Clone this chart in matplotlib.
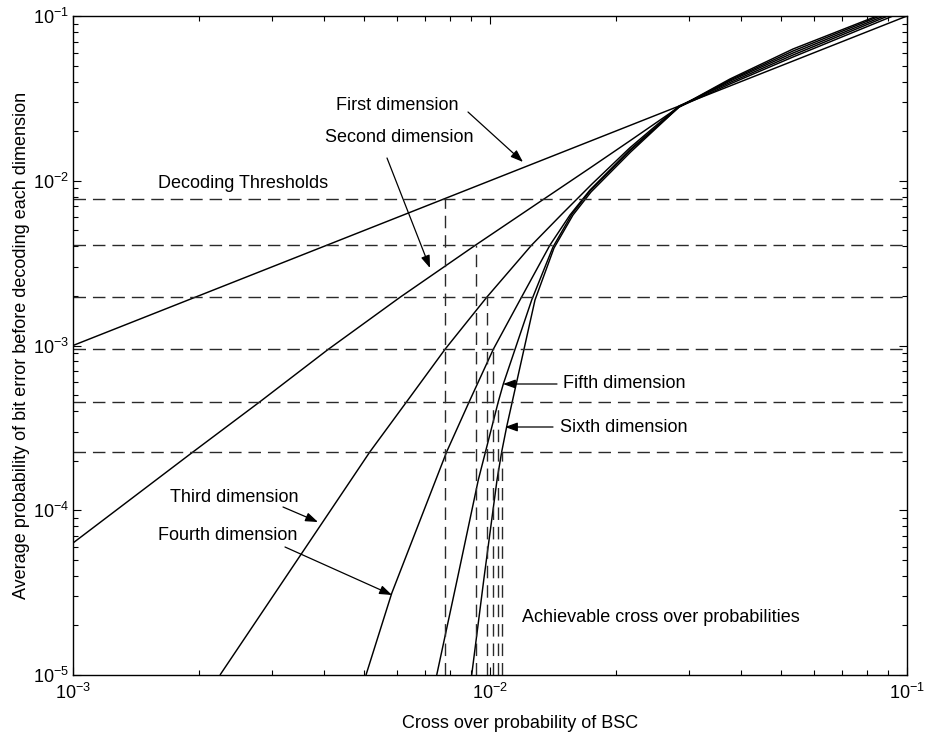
import numpy as np
import matplotlib
matplotlib.use("Agg")
import matplotlib.pyplot as plt
from matplotlib.ticker import LogLocator, NullFormatter

plt.rcParams['font.family'] = ['Liberation Sans', 'DejaVu Sans']
plt.rcParams['mathtext.fontset'] = 'custom'
plt.rcParams['mathtext.rm'] = 'Liberation Sans'
plt.rcParams['mathtext.it'] = 'Liberation Sans:italic'
plt.rcParams['mathtext.bf'] = 'Liberation Sans:bold'

# ---- data, stored as log10 of the probabilities ----
# First dimension: error before decoding equals the crossover probability
dim1_lx = [-3.0, -1.0]
dim1_ly = [-3.0, -1.0]

dim2_lx = [-3.000, -2.7115, -2.5516, -2.3878, -2.2158, -2.0343, -1.8688, -1.7602,
           -1.6651, -1.5468, -1.4245, -1.2734, -1.0336]
dim2_ly = [-4.1988, -3.6446, -3.3411, -3.0231, -2.7074, -2.3900, -2.1077, -1.9226,
           -1.7587, -1.5524, -1.4127, -1.2489, -1.0]

dim3_lx = [-2.6475, -2.2878, -2.1998, -2.1079, -2.0079, -1.9000, -1.8273, -1.7554,
           -1.6651, -1.5468, -1.4245, -1.2734, -1.0456]
dim3_ly = [-5.0, -3.6446, -3.3411, -3.0231, -2.7074, -2.3900, -2.2018, -2.0197,
           -1.8012, -1.5463, -1.4036, -1.2368, -1.0]

dim4_lx = [-2.2974, -2.2357, -2.1038, -2.0480, -1.9921, -1.9281, -1.8561, -1.8082,
           -1.7602, -1.6651, -1.5468, -1.4245, -1.2734, -1.0552]
dim4_ly = [-5.0, -4.5041, -3.6446, -3.3308, -3.0231, -2.7238, -2.3900, -2.2079,
           -2.0562, -1.8134, -1.5524, -1.3945, -1.2246, -1.0]

dim5_lx = [-2.1278, -2.0779, -2.0281, -1.9801, -1.9681, -1.9000, -1.8489, -1.8034,
           -1.7602, -1.6651, -1.5468, -1.4245, -1.2734, -1.0647]
dim5_ly = [-5.0, -4.4112, -3.8164, -3.3411, -3.2337, -2.7238, -2.4021, -2.2018,
           -2.0622, -1.8194, -1.5524, -1.3885, -1.2125, -1.0]

dim6_lx = [-2.0439, -2.0144, -1.9832, -1.9719, -1.9600, -1.8921, -1.8465, -1.8010,
           -1.7578, -1.6627, -1.5468, -1.4245, -1.2734, -1.0719]
dim6_ly = [-5.0, -4.4112, -3.8164, -3.6446, -3.4929, -2.7238, -2.4082, -2.2079,
           -2.0683, -1.8255, -1.5524, -1.3824, -1.2003, -1.0]

# decoding thresholds (horizontal) and achievable crossover probabilities (vertical)
thresholds = [7.72e-3, 4.07e-3, 1.96e-3, 9.48e-4, 4.56e-4, 2.26e-4]
achievable = [7.80e-3, 9.25e-3, 9.82e-3, 1.019e-2, 1.047e-2, 1.067e-2]

curves_lx = [dim1_lx, dim2_lx, dim3_lx, dim4_lx, dim5_lx, dim6_lx]
curves_ly = [dim1_ly, dim2_ly, dim3_ly, dim4_ly, dim5_ly, dim6_ly]

W, H = 925, 734
fig = plt.figure(figsize=(W / 100, H / 100), dpi=100)
ax = fig.add_axes([73 / W, 1 - 675 / H, (907 - 73) / W, (675 - 16) / H])
ax.set_xscale('log')
ax.set_yscale('log')
ax.set_xlim(1e-3, 1e-1)
ax.set_ylim(1e-5, 1e-1)

for lx, ly in zip(curves_lx, curves_ly):
    ax.plot(np.power(10.0, lx), np.power(10.0, ly), color='black', lw=1.05,
            solid_joinstyle='round', solid_capstyle='butt')

dash = (9, 5)
for t in thresholds:
    ax.axhline(t, color='#2a2a2a', lw=1.0, dashes=dash)
for a, t in zip(achievable, thresholds):
    ax.plot([a, a], [1e-5, t], color='#2a2a2a', lw=1.0, dashes=dash)

ax.tick_params(which='both', direction='in', top=True, right=True, labelsize=13,
               width=0.8)
ax.tick_params(which='major', length=6)
ax.tick_params(which='minor', length=3.5)
ax.tick_params(axis='x', pad=6)
ax.tick_params(axis='y', pad=3)
ax.xaxis.set_major_locator(LogLocator(base=10, numticks=10))
ax.yaxis.set_major_locator(LogLocator(base=10, numticks=10))
ax.xaxis.set_minor_locator(LogLocator(base=10, subs=np.arange(2, 10), numticks=20))
ax.yaxis.set_minor_locator(LogLocator(base=10, subs=np.arange(2, 10), numticks=20))
ax.xaxis.set_minor_formatter(NullFormatter())
ax.yaxis.set_minor_formatter(NullFormatter())
for s in ax.spines.values():
    s.set_linewidth(1.0)

fs = 13
ax.set_xlabel('Cross over probability of BSC', fontsize=fs)
ax.xaxis.set_label_coords(0.536, -0.061)
ax.set_ylabel('Average probability of bit error before decoding each dimension',
              fontsize=fs, labelpad=2)


def px2data(px, py):
    lx = -3 + (px - 73) / 417.0
    ly = -1 - (py - 16) / 164.75
    return 10 ** lx, 10 ** ly


aprops = dict(arrowstyle='-|>,head_length=0.75,head_width=0.27', color='black',
              lw=0.9, shrinkA=0, shrinkB=0)

labels = [
    ('First dimension', 336, 106),
    ('Second dimension', 325, 138),
    ('Decoding Thresholds', 158, 183),
    ('Third dimension', 170, 497),
    ('Fourth dimension', 158, 535),
    ('Fifth dimension', 563, 383),
    ('Sixth dimension', 560, 427),
    ('Achievable cross over probabilities', 522, 618),
]
for txt, px, py in labels:
    ax.text(*px2data(px, py), txt, fontsize=fs, ha='left', va='center')

arrows = [
    ((468, 112), (523, 162)),
    ((387, 158), (430, 268)),
    ((283, 507), (318, 522)),
    ((285, 547), (392, 595)),
    ((557, 384), (503, 384)),
    ((553, 427), (505, 427)),
]
for (tx, ty), (hx, hy) in arrows:
    ax.annotate('', xy=px2data(hx, hy), xytext=px2data(tx, ty), arrowprops=aprops)

fig.savefig('out.png', dpi=100)
